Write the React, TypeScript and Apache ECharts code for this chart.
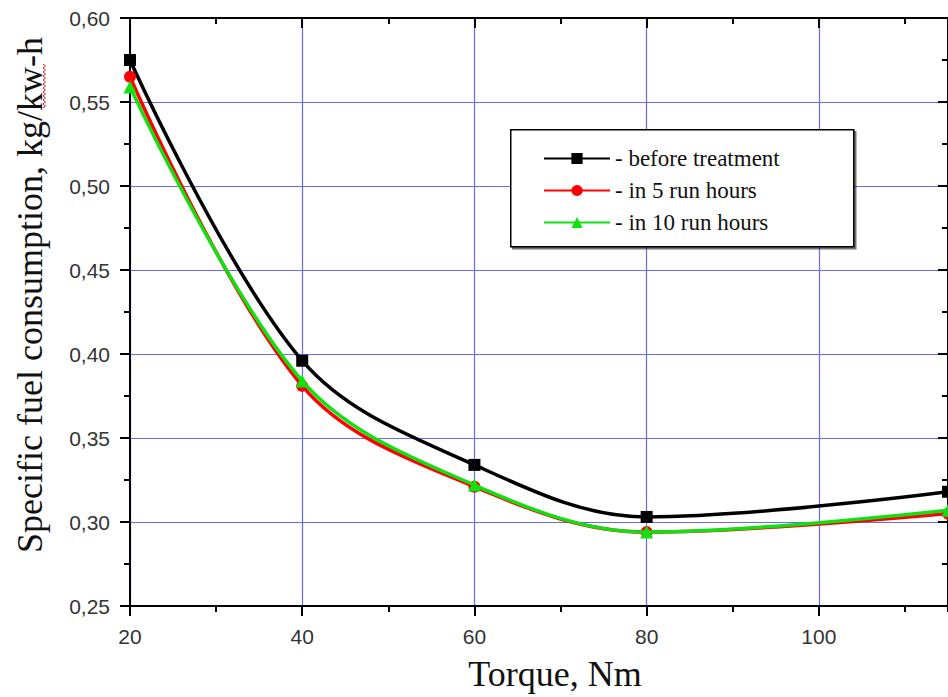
import React, { useEffect, useRef } from "react";
import * as echarts from "echarts";

const torque = [20, 40, 60, 80, 115];
const beforeTreatment = [0.575, 0.396, 0.334, 0.303, 0.318];
const run5Hours = [0.565, 0.381, 0.321, 0.294, 0.305];
const run10Hours = [0.559, 0.384, 0.322, 0.294, 0.307];
const seriesNames = ["- before treatment", "- in 5 run hours", "- in 10 run hours"];
const seriesColors = ["#000000", "#ff0000", "#11e011"];
const seriesSymbols = ["rect", "circle", "triangle"];

const xMin = 20;
const xMax = 115;
const yMin = 0.25;
const yMax = 0.6;

const GRID_BLUE = "#6a6aee";
const sans = "'Liberation Sans', Arial, sans-serif";
const serif = "'Liberation Serif', 'Times New Roman', serif";

function squigglePoints(x: number, y0: number, y1: number) {
  const pts: number[][] = [];
  let k = 0;
  for (let y = y0; y <= y1; y += 2) {
    pts.push([x + (k % 2 === 0 ? 0 : 2.5), y]);
    k++;
  }
  return pts;
}

export default function App() {
  const ref = useRef<HTMLDivElement>(null);
  useEffect(() => {
    if (!ref.current) return;
    const chart = echarts.init(ref.current, null, { renderer: "svg" });
    const allValues = [beforeTreatment, run5Hours, run10Hours];
    const baseX = {
      type: "value",
      min: xMin,
      max: xMax,
      axisLabel: { show: false },
      splitLine: { show: false },
      axisLine: { show: false },
    };
    chart.setOption({
      animation: false,
      backgroundColor: "#ffffff",
      grid: { left: 130, top: 18, width: 822, height: 590, containLabel: false },
      xAxis: [
        {
          type: "value",
          position: "bottom",
          min: xMin,
          max: xMax,
          interval: 20,
          axisLine: { show: true, onZero: false, lineStyle: { color: "#000", width: 2 } },
          axisTick: { show: true, inside: false, length: 10, lineStyle: { color: "#000", width: 2 } },
          axisLabel: {
            showMaxLabel: false,
            margin: 20,
            fontFamily: sans,
            fontSize: 21,
            color: "#333",
          },
          splitLine: { show: true, lineStyle: { color: GRID_BLUE, width: 1.2 } },
          name: "Torque, Nm",
          nameLocation: "middle",
          nameGap: 50,
          nameTextStyle: {
            fontFamily: serif,
            fontSize: 36,
            lineHeight: 36,
            color: "#111",
            padding: [0, 0, 0, 32],
          },
        },
        {
          ...baseX,
          position: "bottom",
          interval: 10,
          axisTick: { show: true, inside: false, length: 6, lineStyle: { color: "#000", width: 2 } },
        },
        {
          ...baseX,
          position: "top",
          interval: 20,
          axisLine: { show: true, onZero: false, lineStyle: { color: "#000", width: 2 } },
          axisTick: { show: true, inside: true, length: 10, lineStyle: { color: "#000", width: 2 } },
        },
        {
          ...baseX,
          position: "top",
          interval: 10,
          axisTick: { show: true, inside: true, length: 6, lineStyle: { color: "#000", width: 2 } },
        },
      ],
      yAxis: [
        {
          type: "value",
          position: "left",
          min: yMin,
          max: yMax,
          interval: 0.05,
          axisLine: { show: true, onZero: false, lineStyle: { color: "#000", width: 2 } },
          axisTick: { show: true, inside: false, length: 10, lineStyle: { color: "#000", width: 2 } },
          minorTick: { show: true, splitNumber: 2, length: 6, lineStyle: { color: "#000", width: 2 } },
          axisLabel: {
            margin: 20,
            fontFamily: sans,
            fontSize: 21,
            color: "#333",
            formatter: (v: number) => v.toFixed(2).replace(".", ","),
          },
          splitLine: { show: true, lineStyle: { color: GRID_BLUE, width: 1.2 } },
          name: "Specific fuel consumption, kg/kw-h",
          nameLocation: "middle",
          nameRotate: 90,
          nameGap: 82,
          nameTextStyle: {
            fontFamily: serif,
            fontSize: 36,
            lineHeight: 36,
            color: "#111",
            padding: [0, 0, 0, 34],
          },
        },
        {
          type: "value",
          position: "right",
          min: yMin,
          max: yMax,
          interval: 0.05,
          axisLine: { show: true, onZero: false, lineStyle: { color: "#000", width: 2 } },
          axisTick: { show: true, inside: true, length: 10, lineStyle: { color: "#000", width: 2 } },
          minorTick: { show: true, splitNumber: 2, length: 6, lineStyle: { color: "#000", width: 2 } },
          axisLabel: { show: false },
          splitLine: { show: false },
        },
      ],
      legend: {
        orient: "vertical",
        left: 543,
        top: 147,
        itemWidth: 66,
        itemHeight: 14,
        itemGap: 9,
        padding: 0,
        data: seriesNames,
        textStyle: { fontFamily: serif, fontSize: 23, lineHeight: 23, color: "#111" },
        z: 5,
      },
      graphic: [
        {
          type: "rect",
          left: 510,
          top: 129,
          z: 3,
          shape: { width: 343, height: 117 },
          style: {
            fill: "#ffffff",
            stroke: "#000",
            lineWidth: 1.5,
            shadowColor: "rgba(0,0,0,0.55)",
            shadowOffsetX: 2,
            shadowOffsetY: 2,
            shadowBlur: 1,
          },
        },
        {
          type: "polyline",
          z: 10,
          silent: true,
          shape: { points: squigglePoints(43, 64, 108) },
          style: { stroke: "#e02020", lineWidth: 1, fill: null },
        },
      ],
      series: seriesNames.map((name, i) => ({
        name,
        type: "line",
        xAxisIndex: 0,
        yAxisIndex: 0,
        smooth: 0.35,
        symbol: seriesSymbols[i],
        symbolSize: i === 2 ? 13 : 12,
        showSymbol: true,
        lineStyle: { color: seriesColors[i], width: 3.5 },
        itemStyle: { color: seriesColors[i] },
        data: torque.map((t, k) => [t, allValues[i][k]]),
        z: 2 + i * 0.1,
      })),
    });
    return () => chart.dispose();
  }, []);
  return (
    <div
      ref={ref}
      style={{ position: "fixed", left: 0, top: 0, width: 948, height: 697, background: "#fff" }}
    />
  );
}
